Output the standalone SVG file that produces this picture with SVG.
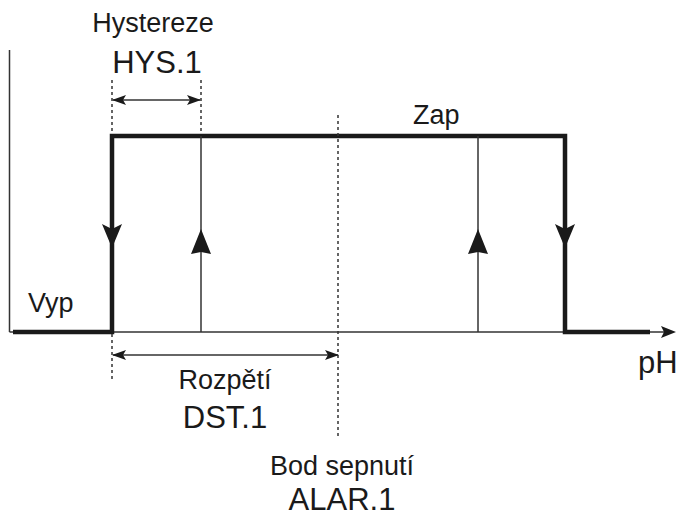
<svg xmlns="http://www.w3.org/2000/svg" width="680" height="518" viewBox="0 0 680 518">
<style>
.t{font-family:"Liberation Sans",Arial,sans-serif;fill:#1a1a1a}
.s{font-size:27px}
.b{font-size:31px}
.thin{stroke:#333;stroke-width:1.5;fill:none}
.thick{stroke:#1a1a1a;stroke-width:4.5;fill:none}
.dash{stroke:#333;stroke-width:1.5;stroke-dasharray:3 3;fill:none}
.ah{fill:#1a1a1a}
</style>
<defs>
<marker id="sa" viewBox="0 0 14 10" refX="13" refY="5" markerWidth="14" markerHeight="10" markerUnits="userSpaceOnUse" orient="auto-start-reverse">
<path d="M0,0 L14,5 L0,10 L3,5 Z" class="ah"/>
</marker>
</defs>
<g id="axes">
<line class="thin" x1="9.5" y1="50" x2="9.5" y2="332"/>
<line class="thin" x1="9.5" y1="332" x2="664" y2="332"/>
<path class="ah" d="M676,332 L661,326 L664,332 L661,338 Z"/>
</g>
<g id="connectors">
<path class="thick" d="M13,332 H112 V136 H565 V332 H650"/>
<line class="thin" x1="201" y1="136" x2="201" y2="332"/>
<line class="thin" x1="478" y1="136" x2="478" y2="332"/>
<path class="ah" d="M102,224 L112,229 L122,224 L112,248 Z"/>
<path class="ah" d="M555,224 L565,229 L575,224 L565,248 Z"/>
<path class="ah" d="M191,254 L201,229 L211,254 L201,252 Z"/>
<path class="ah" d="M468,254 L478,229 L488,254 L478,252 Z"/>
<line class="dash" x1="112" y1="80" x2="112" y2="134"/>
<line class="dash" x1="201" y1="80" x2="201" y2="134"/>
<line class="dash" x1="112" y1="334" x2="112" y2="380"/>
<line class="dash" x1="338" y1="115" x2="338" y2="437"/>
<line class="thin" x1="113" y1="100" x2="200" y2="100" marker-start="url(#sa)" marker-end="url(#sa)"/>
<line class="thin" x1="113" y1="355" x2="338" y2="355" marker-start="url(#sa)" marker-end="url(#sa)"/>
</g>
<g id="labels">
<text class="t s" x="153" y="32" text-anchor="middle">Hystereze</text>
<text class="t b" x="157" y="73" text-anchor="middle">HYS.1</text>
<text class="t s" x="413" y="124">Zap</text>
<text class="t s" x="28" y="312">Vyp</text>
<text class="t b" x="638" y="373">pH</text>
<text class="t s" x="225" y="389" text-anchor="middle">Rozpětí</text>
<text class="t b" x="225" y="428" text-anchor="middle">DST.1</text>
<text class="t s" x="342" y="475" text-anchor="middle">Bod sepnutí</text>
<text class="t b" x="342" y="510" text-anchor="middle">ALAR.1</text>
</g>
</svg>
